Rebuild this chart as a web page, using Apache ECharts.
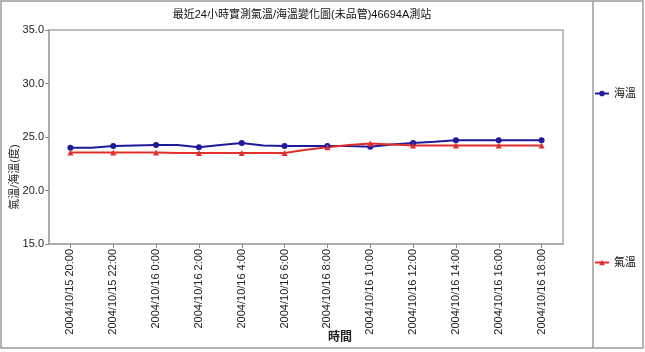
<!DOCTYPE html>
<html>
<head>
<meta charset="utf-8">
<script src="https://cdn.jsdelivr.net/npm/echarts@6/dist/echarts.min.js"></script>
<style>
  html, body { margin: 0; padding: 0; background: #fff; }
  #chart { width: 645px; height: 352px; }
</style>
</head>
<body>
<div id="chart"></div>
<script>
// hourly readings, 2004/10/15 20:00 .. 2004/10/16 18:00
const times = [
  '2004/10/15 20:00', '2004/10/15 21:00', '2004/10/15 22:00', '2004/10/15 23:00',
  '2004/10/16 0:00', '2004/10/16 1:00', '2004/10/16 2:00', '2004/10/16 3:00',
  '2004/10/16 4:00', '2004/10/16 5:00', '2004/10/16 6:00', '2004/10/16 7:00',
  '2004/10/16 8:00', '2004/10/16 9:00', '2004/10/16 10:00', '2004/10/16 11:00',
  '2004/10/16 12:00', '2004/10/16 13:00', '2004/10/16 14:00', '2004/10/16 15:00',
  '2004/10/16 16:00', '2004/10/16 17:00', '2004/10/16 18:00'
];
const seaTemp = [24.0, 24.0, 24.15, 24.2, 24.25, 24.25, 24.05, 24.25, 24.45, 24.2, 24.15, 24.15,
  24.15, 24.15, 24.1, 24.3, 24.45, 24.55, 24.7, 24.7, 24.7, 24.7, 24.7];
const airTemp = [23.55, 23.55, 23.55, 23.55, 23.55, 23.5, 23.5, 23.5, 23.5, 23.5, 23.5, 23.8,
  24.05, 24.25, 24.4, 24.3, 24.2, 24.2, 24.2, 24.2, 24.2, 24.2, 24.2];
const yTicks = { min: 15, max: 35, step: 5 };

const FONT = '"Liberation Sans", "Noto Sans CJK TC", sans-serif';
const BLUE = '#1f1a9c';
const RED = '#e0302e';

// pad one empty hour at each end so the first/last readings sit half a label step in
const axisData = [''].concat(times, ['']);
const pad = arr => ['-'].concat(arr, ['-']);
const everyOther = idx => idx % 2 === 1;

const chart = echarts.init(document.getElementById('chart'), null, { renderer: 'canvas' });
chart.setOption({
  animation: false,
  backgroundColor: '#fff',
  textStyle: { fontFamily: FONT },
  title: {
    text: '最近24小時實測氣溫/海溫變化圖(未品管)46694A測站',
    left: 297, top: 4, textAlign: 'center',
    textStyle: { fontSize: 11, fontWeight: 'normal', color: '#111', fontFamily: FONT }
  },
  legend: {
    orient: 'vertical', left: 589, top: 83, itemGap: 158,
    itemWidth: 14, itemHeight: 7,
    textStyle: { fontSize: 11, color: '#111', fontFamily: FONT },
    data: ['海溫', '氣溫']
  },
  grid: {
    left: 49, right: 82, top: 30, bottom: 108,
    outerBoundsMode: 'none',
    containLabel: false,
    show: true, borderColor: '#a8a8a8', borderWidth: 1.5
  },
  xAxis: {
    type: 'category',
    data: axisData,
    boundaryGap: false,
    name: '時間',
    nameLocation: 'middle',
    nameGap: 88,
    nameMoveOverlap: false,
    nameTextStyle: { fontSize: 12, fontWeight: 'bold', color: '#222', padding: [0, 0, 0, 68] },
    axisLine: { lineStyle: { color: '#a8a8a8', width: 1.5 } },
    axisTick: { interval: everyOther, length: 4, lineStyle: { color: '#888' } },
    axisLabel: { interval: everyOther, rotate: 90, fontSize: 11, color: '#222', margin: 5 },
    splitLine: { show: false }
  },
  yAxis: {
    type: 'value',
    min: yTicks.min, max: yTicks.max, interval: yTicks.step,
    name: '氣溫/海溫(度)',
    nameLocation: 'middle',
    nameRotate: 90,
    nameGap: 29,
    nameMoveOverlap: false,
    nameTextStyle: { fontSize: 11, color: '#222', padding: [0, 80, 0, 0] },
    axisLine: { show: true, lineStyle: { color: '#a8a8a8', width: 1.5 } },
    axisTick: { show: true, length: 4, lineStyle: { color: '#888' } },
    axisLabel: { fontSize: 11, color: '#222', margin: 5, formatter: v => v.toFixed(1) },
    splitLine: { show: false }
  },
  series: [
    {
      name: '海溫', type: 'line', data: pad(seaTemp),
      symbol: 'circle', symbolSize: (v, p) => (p.dataIndex % 2 === 1 ? 6 : 0),
      showAllSymbol: true,
      lineStyle: { color: BLUE, width: 2 },
      itemStyle: { color: BLUE }
    },
    {
      name: '氣溫', type: 'line', data: pad(airTemp),
      symbol: 'triangle', symbolSize: (v, p) => (p.dataIndex % 2 === 1 ? 6 : 0),
      showAllSymbol: true,
      lineStyle: { color: RED, width: 2 },
      itemStyle: { color: RED }
    }
  ],
  graphic: [
    { type: 'rect', shape: { x: 1, y: 1, width: 642, height: 347 }, silent: true,
      style: { fill: null, stroke: '#9a9a9a', lineWidth: 1.5 } },
    { type: 'line', shape: { x1: 593, y1: 1, x2: 593, y2: 348 }, silent: true,
      style: { stroke: '#9a9a9a', lineWidth: 1.5 } }
  ]
});
</script>
</body>
</html>
